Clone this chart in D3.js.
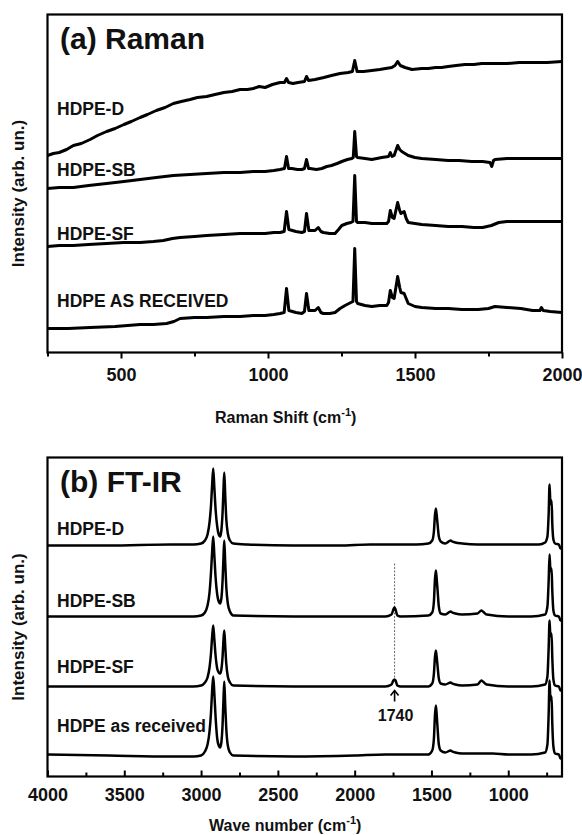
<!DOCTYPE html>
<html>
<head>
<meta charset="utf-8">
<script src="https://cdn.jsdelivr.net/npm/d3@7"></script>
<style>
  html, body { margin: 0; padding: 0; background: #fff; }
  svg { display: block; }
  text { font-family: "Liberation Sans", Arial, Helvetica, sans-serif; font-weight: bold; fill: #111; }
</style>
</head>
<body>
<script>
// ---------------- DATA ----------------
// Raman spectra: [Raman shift (cm-1), intensity (arb. un., offset stacked)]
const ramanD = [[250,197],[270,199],[290,200],[315,203],[338,207],[365,209],[395,213],[420,217],[451,221],[480,224],[510,228],[535,231],[565,235],[590,238],[620,242],[650,245],[678,249],[705,251],[735,253],[760,255],[791,256],[820,258],[850,260],[878,261],[905,263],[930,263],[950,264],[970,266],[990,265],[1015,268],[1041,270],[1056,270],[1063,274],[1070,270],[1085,269],[1102,270],[1124,271],[1131,276],[1138,272],[1160,273],[1190,275],[1216,277],[1245,279],[1273,280],[1287,281],[1295,292],[1303,281],[1325,281],[1353,282],[1380,283],[1400,284],[1421,285],[1432,287],[1441,291],[1450,287],[1466,285],[1490,283],[1523,284],[1545,284],[1570,285],[1590,285],[1613,286],[1640,287],[1670,288],[1700,288],[1727,289],[1770,289],[1813,289],[1855,290],[1900,290],[1950,290],[2000,291]];
const ramanSB = [[250,164],[290,165],[338,165],[390,167],[451,169],[510,171],[565,173],[620,175],[678,177],[735,178],[791,179],[850,180],[905,180],[950,181],[990,181],[1020,182],[1041,183],[1056,184],[1063,196],[1070,184],[1081,184],[1100,183],[1115,183],[1124,184],[1131,193],[1138,184],[1143,184],[1165,183],[1183,184],[1200,186],[1216,187],[1235,189],[1251,191],[1270,193],[1285,194],[1290,195],[1295,221],[1301,196],[1305,195],[1330,194],[1353,193],[1370,194],[1387,195],[1410,196],[1416,200],[1422,196],[1429,197],[1441,207],[1448,203],[1455,201],[1466,199],[1477,197],[1500,195],[1523,194],[1570,193],[1613,192],[1650,192],[1693,191],[1730,191],[1755,190],[1761,186],[1767,192],[1772,193],[1813,194],[1860,194],[1900,194],[1950,194],[2000,194]];
const ramanSF = [[250,106],[290,107],[338,107],[390,108],[451,109],[510,110],[565,110],[610,111],[644,112],[675,114],[701,115],[750,116],[791,117],[850,118],[905,119],[950,119],[990,119],[1020,120],[1041,120],[1055,121],[1063,141],[1071,123],[1095,121],[1115,120],[1124,121],[1131,139],[1139,122],[1160,122],[1171,125],[1180,121],[1188,120],[1210,119],[1228,119],[1240,123],[1251,127],[1268,129],[1282,130],[1289,131],[1295,177],[1301,131],[1305,130],[1330,130],[1353,129],[1380,129],[1404,129],[1410,131],[1416,142],[1423,135],[1429,134],[1441,150],[1448,142],[1452,139],[1463,141],[1470,134],[1477,130],[1500,129],[1523,128],[1570,127],[1613,126],[1660,126],[1700,125],[1730,125],[1760,127],[1785,130],[1813,131],[1860,131],[1900,131],[1950,131],[2000,131]];
const ramanAR = [[250,24],[320,24],[395,25],[480,26],[565,28],[610,28],[655,29],[680,31],[701,34],[750,35],[791,35],[850,36],[905,36],[950,37],[990,37],[1020,38],[1041,39],[1055,40],[1063,64],[1071,42],[1095,40],[1115,39],[1124,41],[1131,59],[1139,42],[1160,42],[1171,45],[1180,40],[1188,39],[1210,39],[1228,40],[1245,44],[1262,47],[1282,50],[1289,51],[1295,104],[1301,51],[1305,49],[1330,47],[1353,46],[1380,47],[1404,47],[1410,50],[1416,62],[1423,55],[1429,54],[1441,76],[1448,65],[1452,60],[1463,59],[1470,54],[1477,49],[1500,46],[1523,45],[1570,44],[1613,44],[1660,43],[1715,43],[1750,44],[1772,46],[1813,45],[1860,44],[1900,42],[1925,42],[1930,45],[1936,42],[1960,41],[2000,40]];

// FT-IR spectra: [wave number (cm-1), intensity (arb. un., offset stacked)]
const irD = [[4000,231],[3600,231],[3200,232],[3050,232],[3000,233],[2975,236],[2958,242],[2945,254],[2935,272],[2928,292],[2921,308],[2914,290],[2905,266],[2895,250],[2885,242],[2876,240],[2868,246],[2860,264],[2854,288],[2849,304],[2843,282],[2836,258],[2826,243],[2812,236],[2790,233],[2700,232],[2400,231],[2100,231],[1900,232],[1760,232],[1600,232],[1520,233],[1495,236],[1484,245],[1477,262],[1471,268],[1465,260],[1460,252],[1452,240],[1440,235],[1410,233],[1375,236],[1365,235],[1345,234],[1300,233],[1200,232],[1000,232],[800,232],[760,234],[745,240],[737,262],[731,292],[727,278],[722,272],[718,276],[713,252],[706,237],[695,233],[670,232],[660,228],[650,228]];
const irSB = [[4000,160],[3600,160],[3200,160],[3050,160],[3000,161],[2975,164],[2958,171],[2945,184],[2935,205],[2928,225],[2921,240],[2914,222],[2905,198],[2895,182],[2885,175],[2876,173],[2868,178],[2860,196],[2854,220],[2849,236],[2843,214],[2836,190],[2826,173],[2812,165],[2790,161],[2400,160],[2000,160],[1800,160],[1760,162],[1748,167],[1741,169],[1734,167],[1722,161],[1700,160],[1520,161],[1495,164],[1484,175],[1477,198],[1471,206],[1465,196],[1460,186],[1452,170],[1440,163],[1410,162],[1375,165],[1365,164],[1345,163],[1300,162],[1200,163],[1175,166],[1165,165],[1140,162],[1000,160],[850,160],[760,162],[745,170],[737,195],[731,222],[727,210],[722,205],[718,208],[713,185],[706,166],[695,161],[670,160],[660,156],[650,156]];
const irSF = [[4000,90],[3600,90],[3200,90],[3050,90],[3000,91],[2975,94],[2958,99],[2945,109],[2935,124],[2928,140],[2921,151],[2914,138],[2905,120],[2895,108],[2885,104],[2876,103],[2868,107],[2860,120],[2854,137],[2849,146],[2843,131],[2836,113],[2826,100],[2812,94],[2790,91],[2400,90],[2000,90],[1800,90],[1760,92],[1748,96],[1741,97],[1734,96],[1722,91],[1700,90],[1520,90],[1495,93],[1484,103],[1477,120],[1471,126],[1465,118],[1460,110],[1452,98],[1440,93],[1410,92],[1375,94],[1365,93],[1345,92],[1300,91],[1200,92],[1175,96],[1165,95],[1140,92],[1000,90],[850,90],[760,92],[745,100],[737,128],[731,156],[727,144],[722,140],[718,143],[713,118],[706,97],[695,91],[670,90],[660,86],[650,86]];
const irAR = [[4000,22],[3600,21],[3200,20],[3050,20],[3000,21],[2975,25],[2958,32],[2945,45],[2935,65],[2928,86],[2921,100],[2914,84],[2905,58],[2895,38],[2885,31],[2876,29],[2868,34],[2860,52],[2854,78],[2849,95],[2843,72],[2836,48],[2826,31],[2812,24],[2790,21],[2400,20],[2000,21],[1800,22],[1600,22],[1520,22],[1495,26],[1484,38],[1477,62],[1471,71],[1465,60],[1460,48],[1452,32],[1440,26],[1410,24],[1375,26],[1365,25],[1345,24],[1300,23],[1100,23],[1000,22],[850,22],[760,24],[745,32],[737,62],[731,96],[727,82],[722,76],[718,80],[713,52],[706,30],[695,23],[670,22],[660,18],[650,18]];

const ramanLabels = ["HDPE-D", "HDPE-SB", "HDPE-SF", "HDPE AS RECEIVED"];
const irLabels = ["HDPE-D", "HDPE-SB", "HDPE-SF", "HDPE as received"];
const ramanTicks = [500, 1000, 1500, 2000];
const ramanMinorTicks = [250, 750, 1250, 1750];
const irTicks = [4000, 3500, 3000, 2500, 2000, 1500, 1000];
const irMinorTicks = [3750, 3250, 2750, 2250, 1750, 1250, 750];
const irMarker = [1740, 213, 97];   // wave number, top / bottom of dotted guide
const irMarkerLabel = "1740";

// ---------------- LAYOUT ----------------
const W = 582, H = 835;
const svg = d3.select("body").append("svg").attr("width", W).attr("height", H);

const pA = {x0: 47.5, x1: 562, y0: 14.5, y1: 352.5};
const pB = {x0: 47.5, x1: 562, y0: 457.5, y1: 776.5};

const xA = d3.scaleLinear().domain([250, 2000]).range([pA.x0, pA.x1]);
const yA = d3.scaleLinear().domain([0, 338]).range([pA.y1, pA.y0]);
const xB = d3.scaleLinear().domain([4000, 650]).range([pB.x0, pB.x1]);
const yB = d3.scaleLinear().domain([0, 319]).range([pB.y1, pB.y0]);

const defs = svg.append("defs");
defs.append("clipPath").attr("id", "clipA").append("rect")
  .attr("x", pA.x0).attr("y", pA.y0).attr("width", pA.x1 - pA.x0).attr("height", pA.y1 - pA.y0);
defs.append("clipPath").attr("id", "clipB").append("rect")
  .attr("x", pB.x0).attr("y", pB.y0).attr("width", pB.x1 - pB.x0).attr("height", pB.y1 - pB.y0);

// ---------------- PANEL A: RAMAN ----------------
const lineA = d3.line().x(d => xA(d[0])).y(d => yA(d[1])).curve(d3.curveLinear);
const gA = svg.append("g").attr("clip-path", "url(#clipA)");
[ramanD, ramanSB, ramanSF, ramanAR].forEach(s => {
  gA.append("path").datum(s).attr("d", lineA)
    .attr("fill", "none").attr("stroke", "#000").attr("stroke-width", 3)
    .attr("stroke-linejoin", "round");
});

// axis (outward ticks)
const axA = svg.append("g").attr("transform", `translate(0,${pA.y1})`);
axA.call(d3.axisBottom(xA).tickValues(ramanTicks).tickSize(6).tickPadding(10).tickFormat(d3.format("d")));
const axAm = svg.append("g").attr("transform", `translate(0,${pA.y1})`);
axAm.call(d3.axisBottom(xA).tickValues(ramanMinorTicks).tickSize(4).tickFormat(""));
[axA, axAm].forEach(a => {
  a.select(".domain").remove();
  a.selectAll(".tick line").attr("stroke", "#000").attr("stroke-width", 2);
});
axA.selectAll(".tick text").style("font-size", "18px").style("font-weight", "bold")
  .attr("fill", "#111").attr("dy", "0.71em");

svg.append("rect").attr("x", pA.x0).attr("y", pA.y0)
  .attr("width", pA.x1 - pA.x0).attr("height", pA.y1 - pA.y0)
  .attr("fill", "none").attr("stroke", "#000").attr("stroke-width", 2.2);

svg.append("text").attr("x", 60).attr("y", 49).style("font-size", "30px").text("(a) Raman");

const ramanLabelY = [114.5, 176, 239.5, 306.5];
ramanLabels.forEach((t, i) => {
  svg.append("text").attr("x", 57).attr("y", ramanLabelY[i]).style("font-size", "17.5px").text(t);
});

const tA = svg.append("text").attr("x", 215).attr("y", 423).style("font-size", "16px");
tA.append("tspan").text("Raman Shift (cm");
tA.append("tspan").attr("dy", -7).style("font-size", "11px").text("-1");
tA.append("tspan").attr("dy", 7).text(")");

svg.append("text").attr("transform", `translate(24,${(pA.y0 + pA.y1) / 2 + 10}) rotate(-90)`)
  .attr("text-anchor", "middle").style("font-size", "17px").text("Intensity (arb. un.)");

// ---------------- PANEL B: FT-IR ----------------
const lineB = d3.line().x(d => xB(d[0])).y(d => yB(d[1])).curve(d3.curveMonotoneX);
const gB = svg.append("g").attr("clip-path", "url(#clipB)");

// dotted guide at 1740
gB.append("line")
  .attr("x1", xB(irMarker[0])).attr("x2", xB(irMarker[0]))
  .attr("y1", yB(irMarker[1])).attr("y2", yB(irMarker[2]))
  .attr("stroke", "#666").attr("stroke-width", 1).attr("stroke-dasharray", "2,1.5");

[irD, irSB, irSF, irAR].forEach(s => {
  gB.append("path").datum(s).attr("d", lineB)
    .attr("fill", "none").attr("stroke", "#000").attr("stroke-width", 2.5)
    .attr("stroke-linejoin", "round");
});

// arrow + label
const ax = xB(irMarker[0]);
const arrowTop = yB(86), arrowBot = yB(75);
svg.append("line").attr("x1", ax).attr("x2", ax).attr("y1", arrowTop + 1).attr("y2", arrowBot)
  .attr("stroke", "#000").attr("stroke-width", 1.6);
svg.append("path").attr("d", `M${ax - 4},${arrowTop + 5} L${ax},${arrowTop} L${ax + 4},${arrowTop + 5}`)
  .attr("fill", "none").attr("stroke", "#000").attr("stroke-width", 1.6);
svg.append("text").attr("x", ax + 1).attr("y", yB(56)).attr("text-anchor", "middle")
  .style("font-size", "16px").text(irMarkerLabel);

// axis (inward ticks)
const axB = svg.append("g").attr("transform", `translate(0,${pB.y1})`);
axB.call(d3.axisBottom(xB).tickValues(irTicks).tickSize(-6).tickPadding(10).tickFormat(d3.format("d")));
const axBm = svg.append("g").attr("transform", `translate(0,${pB.y1})`);
axBm.call(d3.axisBottom(xB).tickValues(irMinorTicks).tickSize(-4).tickFormat(""));
[axB, axBm].forEach(a => {
  a.select(".domain").remove();
  a.selectAll(".tick line").attr("stroke", "#000").attr("stroke-width", 2);
});
axB.selectAll(".tick text").style("font-size", "18px").style("font-weight", "bold")
  .attr("fill", "#111").attr("y", 12).attr("dy", "0.71em");

svg.append("rect").attr("x", pB.x0).attr("y", pB.y0)
  .attr("width", pB.x1 - pB.x0).attr("height", pB.y1 - pB.y0)
  .attr("fill", "none").attr("stroke", "#000").attr("stroke-width", 2.2);

svg.append("text").attr("x", 60).attr("y", 491.5).style("font-size", "30px").text("(b) FT-IR");

const irLabelY = [535, 606.5, 673, 731.5];
irLabels.forEach((t, i) => {
  svg.append("text").attr("x", 57).attr("y", irLabelY[i]).style("font-size", "17.5px").text(t);
});

const tB = svg.append("text").attr("x", 209).attr("y", 831).style("font-size", "16px");
tB.append("tspan").text("Wave number (cm");
tB.append("tspan").attr("dy", -7).style("font-size", "11px").text("-1");
tB.append("tspan").attr("dy", 7).text(")");

svg.append("text").attr("transform", `translate(24,${(pB.y0 + pB.y1) / 2 + 10}) rotate(-90)`)
  .attr("text-anchor", "middle").style("font-size", "17px").text("Intensity (arb. un.)");
</script>
</body>
</html>
